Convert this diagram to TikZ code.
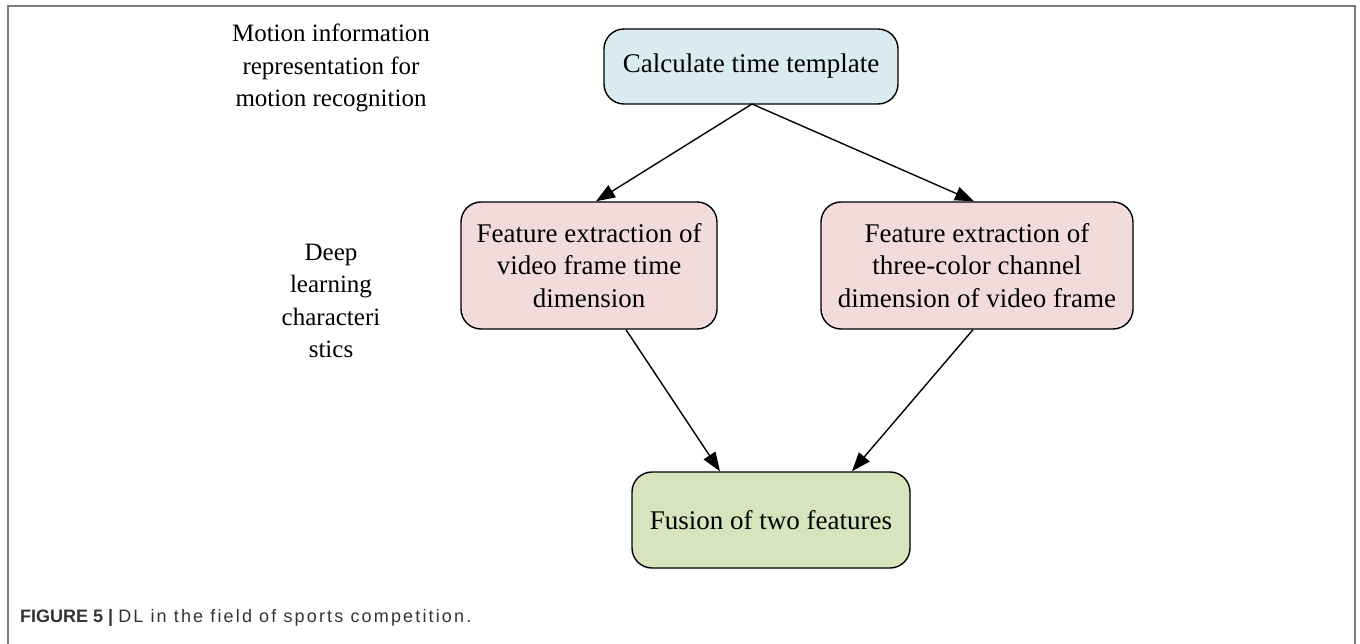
\documentclass[tikz,border=0pt]{standalone}
\usepackage{fontspec}
\setmainfont{Liberation Serif}
\newfontfamily\capfont{Liberation Sans}
\newfontfamily\capwide{Liberation Sans}[LetterSpace=12]
\usetikzlibrary{arrows.meta}
\definecolor{framegray}{HTML}{7A7A7A}
\definecolor{boxblue}{HTML}{DAEBF1}
\definecolor{boxpink}{HTML}{F2DCDB}
\definecolor{boxgreen}{HTML}{D7E4BD}
\definecolor{captext}{HTML}{333333}
\tikzset{
  flowbox/.style={draw=black, line width=1.4pt, rounded corners=20pt, inner sep=0pt,
    align=center, font=\fontsize{27}{32.5}\selectfont},
  sidelabel/.style={align=center, inner sep=0pt, font=\fontsize{25}{32.5}\selectfont},
  flowarrow/.style={line width=1.4pt, -{Triangle[length=19pt, width=14pt]}}
}
\begin{document}
\begin{tikzpicture}[x=1pt, y=-1pt]
\useasboundingbox (0,0) rectangle (1360,644);
\draw[framegray, line width=2pt] (7.5,644) -- (7.5,6.5) -- (1355,6.5) -- (1355,644);
\node[flowbox, fill=boxblue, minimum width=294pt, minimum height=75pt] (top) at (751,66.5) {Calculate time template};
\node[flowbox, fill=boxpink, minimum width=256pt, minimum height=127pt] (left) at (589,265.5) {Feature extraction of\\video frame time\\dimension};
\node[flowbox, fill=boxpink, minimum width=312pt, minimum height=127pt] (right) at (977,265.5) {Feature extraction of\\three-color channel\\dimension of video frame};
\node[flowbox, fill=boxgreen, minimum width=278pt, minimum height=96pt] (bottom) at (771,520) {Fusion of two features};
\node[sidelabel] (lab1) at (331,68) {Motion information\\representation for\\motion recognition};
\node[sidelabel] (lab2) at (331,301) {Deep\\learning\\characteri\\stics};
\coordinate (topb) at (752,104);
\draw[flowarrow] (topb) -- (left.north -| 596,0);
\draw[flowarrow] (topb) -- (right.north -| 974,0);
\draw[flowarrow] (left.south -| 626,0) -- (bottom.north -| 720,0);
\draw[flowarrow] (right.south -| 973,0) -- (bottom.north -| 852,0);
\node[anchor=base west, inner sep=0pt, text=captext, font=\capfont\fontsize{18}{20}\selectfont] (cap) at (20,622) {\textbf{FIGURE 5 |} {\capwide DL in the field of sports competition.}};
\end{tikzpicture}
\end{document}
